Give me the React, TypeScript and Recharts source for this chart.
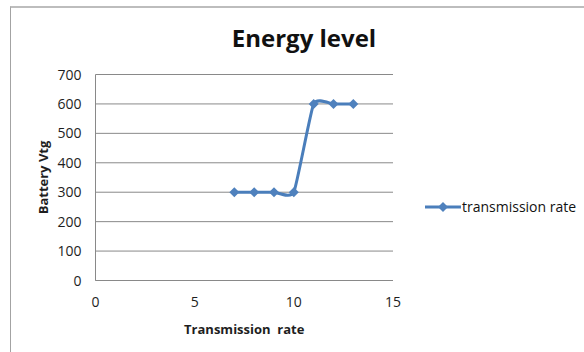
import React from 'react';
import { LineChart, Line, XAxis, YAxis, CartesianGrid, Legend, Label } from 'recharts';

const transmissionRate = [7, 8, 9, 10, 11, 12, 13];
const batteryVtg = [300, 300, 300, 300, 600, 600, 600];
const xTicks = [0, 5, 10, 15];
const yTicks = [0, 100, 200, 300, 400, 500, 600, 700];

const data = transmissionRate.map((rate, i) => ({ rate, vtg: batteryVtg[i] }));

const FONT = '"Open Sans", "Liberation Sans", sans-serif';
const GRID = '#898989';
const SERIES = '#4A7EBB';
const MARKER = '#4F81BD';

// Office-style smoothed line: cubic Bezier through every point, tangents from the neighbours.
const smoothCurve = (k: number) => (context: any) => {
  let pts: [number, number][] = [];
  return {
    areaStart() {},
    areaEnd() {},
    lineStart() {
      pts = [];
    },
    point(x: number, y: number) {
      pts.push([+x, +y]);
    },
    lineEnd() {
      const n = pts.length;
      if (!n) return;
      context.moveTo(pts[0][0], pts[0][1]);
      for (let i = 0; i < n - 1; i++) {
        const p0 = pts[i - 1] || pts[i];
        const p1 = pts[i];
        const p2 = pts[i + 1];
        const p3 = pts[i + 2] || p2;
        context.bezierCurveTo(
          p1[0] + (p2[0] - p0[0]) * k,
          p1[1] + (p2[1] - p0[1]) * k,
          p2[0] - (p3[0] - p1[0]) * k,
          p2[1] - (p3[1] - p1[1]) * k,
          p2[0],
          p2[1],
        );
      }
    },
  };
};

const diamond = (cx: number, cy: number, r: number) =>
  `M${cx},${cy - r}L${cx + r},${cy}L${cx},${cy + r}L${cx - r},${cy}Z`;

const DiamondDot = (props: any) => {
  const { cx, cy, index } = props;
  return <path key={`d-${index}`} d={diamond(cx, cy, 5)} fill={MARKER} />;
};

const XTick = ({ x, y, payload }: any) => (
  <text x={x} y={y + 26} textAnchor="middle" fontSize={14} fontFamily={FONT} fill="#1e1e1e">
    {payload.value}
  </text>
);

const YTick = ({ x, y, payload }: any) => (
  <text x={x - 14} y={y + 5} textAnchor="end" fontSize={14} fontFamily={FONT} fill="#1e1e1e">
    {payload.value}
  </text>
);

const XTitle = ({ viewBox }: any) => (
  <text
    x={viewBox.x + viewBox.width / 2}
    y={334}
    textAnchor="middle"
    fontSize={13}
    fontWeight={700}
    fontFamily={FONT}
    fill="#1e1e1e"
  >
    {'Transmission \u00A0rate'}
  </text>
);

const YTitle = ({ viewBox }: any) => {
  const cx = 43;
  const cy = viewBox.y + viewBox.height / 2;
  return (
    <text
      x={cx}
      y={cy}
      transform={`rotate(-90, ${cx}, ${cy})`}
      textAnchor="middle"
      dominantBaseline="central"
      fontSize={13}
      fontWeight={700}
      fontFamily={FONT}
      fill="#1e1e1e"
    >
      Battery Vtg
    </text>
  );
};

const LegendContent = ({ payload }: any) => (
  <div style={{ display: 'flex', alignItems: 'center', fontFamily: FONT, fontSize: 14, lineHeight: '16px', color: '#111' }}>
    <svg width={36} height={16}>
      <line x1={0} y1={8} x2={36} y2={8} stroke={SERIES} strokeWidth={3} />
      <path d={diamond(18, 8, 5)} fill={MARKER} />
    </svg>
    <span style={{ marginLeft: 1 }}>{payload && payload[0] ? payload[0].value : ''}</span>
  </div>
);

export default function App() {
  return (
    <div
      style={{
        position: 'fixed',
        left: 0,
        top: 0,
        width: 584,
        height: 352,
        overflow: 'hidden',
        background: '#fff',
      }}
    >
      <div
        style={{
          position: 'absolute',
          left: 10,
          top: 6,
          width: 600,
          height: 400,
          borderTop: '2px solid #bdbdbd',
          borderLeft: '1px solid #a3a3a3',
        }}
      />
      <div
        style={{
          position: 'absolute',
          left: 0,
          top: 21,
          width: 608,
          textAlign: 'center',
          fontFamily: FONT,
          fontWeight: 700,
          fontSize: 24,
          color: '#111',
        }}
      >
        Energy level
      </div>
      <div style={{ position: 'absolute', left: 0, top: 0 }}>
        <LineChart
          width={584}
          height={352}
          data={data}
          margin={{ top: 74.5, right: 191, bottom: 31.5, left: 35.5 }}
        >
          <CartesianGrid vertical={false} stroke={GRID} strokeWidth={1} />
          <XAxis
            dataKey="rate"
            type="number"
            domain={[0, 15]}
            ticks={xTicks}
            interval={0}
            height={40}
            axisLine={{ stroke: GRID }}
            tickLine={false}
            tickSize={0}
            tickMargin={0}
            tick={<XTick />}
          >
            <Label content={<XTitle />} />
          </XAxis>
          <YAxis
            type="number"
            domain={[0, 700]}
            ticks={yTicks}
            interval={0}
            width={60}
            axisLine={{ stroke: GRID }}
            tickLine={false}
            tickSize={0}
            tickMargin={0}
            tick={<YTick />}
          >
            <Label content={<YTitle />} />
          </YAxis>
          <Legend
            layout="horizontal"
            verticalAlign="middle"
            align="center"
            wrapperStyle={{ left: 425, top: 199, width: 160 }}
            content={<LegendContent />}
          />
          <Line
            name="transmission rate"
            dataKey="vtg"
            type={smoothCurve(0.08) as any}
            stroke={SERIES}
            strokeWidth={3}
            dot={DiamondDot}
            activeDot={false}
            isAnimationActive={false}
          />
        </LineChart>
      </div>
    </div>
  );
}
